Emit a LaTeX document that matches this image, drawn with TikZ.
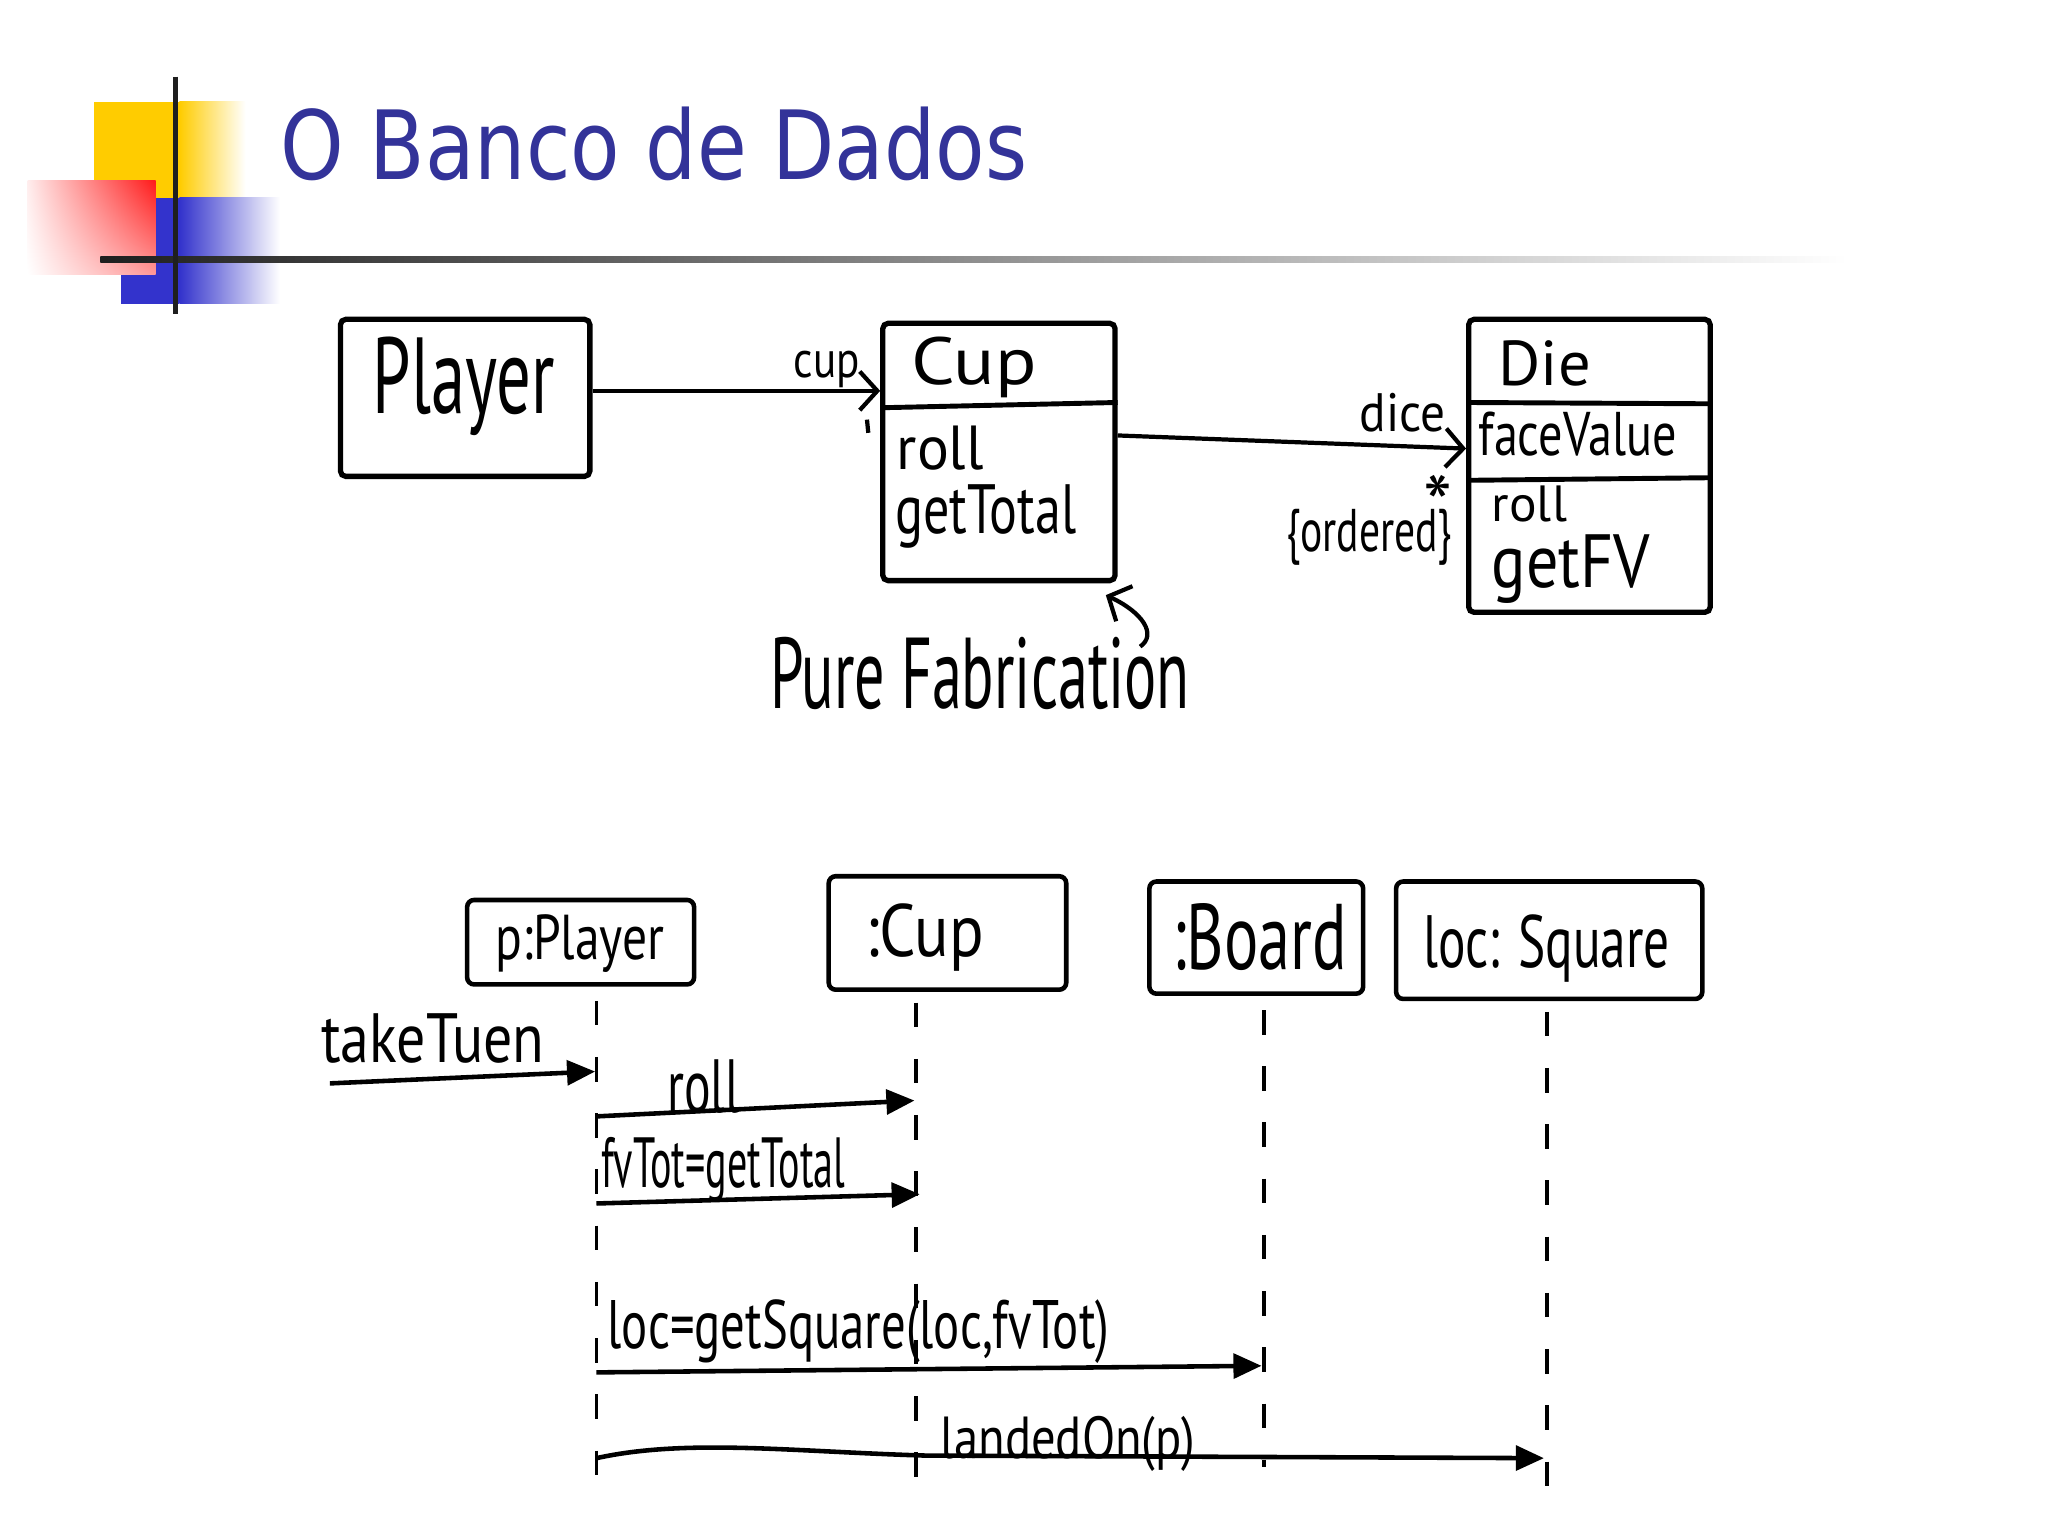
\documentclass[tikz,border=0pt]{standalone}
\usepackage{fontspec}
\usepackage{graphicx}
\setmainfont{Liberation Sans}
\newfontfamily\titlefont{DejaVu Sans}
\newfontfamily\handfont{PT Sans}
\usetikzlibrary{arrows.meta,calc,shadings}
\newlength\pxu
\setlength\pxu{0.013196cm}
\newcommand{\hw}[3]{\resizebox{#1\pxu}{#2\pxu}{\handfont #3}}
\definecolor{titleblue}{HTML}{333399}
\definecolor{logoyellow}{HTML}{FFCC00}
\definecolor{logoblue}{HTML}{3333CC}
\definecolor{logored}{HTML}{FF1A1A}
\tikzset{
  classbox/.style 2 args={draw, line width=1.5pt, minimum width=#1\pxu, minimum height=#2\pxu, inner sep=0pt, rounded corners=1.5pt},
  objbox/.style 2 args={draw, line width=1.3pt, minimum width=#1\pxu, minimum height=#2\pxu, inner sep=0pt, rounded corners=2pt},
  txt/.style={anchor=base west, inner sep=0pt},
  divider/.style={line width=1.4pt},
  assoc/.style={line width=1.2pt, -{Straight Barb[length=5pt,width=11pt,line width=1.2pt]}},
  msg/.style={line width=1.3pt, -{Triangle[length=8pt,width=7pt]}},
  lifeline/.style={line width=1.1pt, dash pattern=on 7pt off 9pt},
}
\begin{document}
\begin{tikzpicture}[x=\pxu,y=-\pxu]
\useasboundingbox (0,0) rectangle (1552,1164);
% ---------- logo ----------
\fill[logoyellow] (71,77) rectangle (136,150);
\shade[left color=logoyellow, right color=white] (136,77) rectangle (186,150);
\fill[logoblue] (92,150) rectangle (136,230);
\shade[left color=logoblue, right color=white] (136,150) rectangle (212,230);
\shade[upper right=logored, lower right=logored!45, upper left=logored!8, lower left=white] (21,137) rectangle (118,208);
\shade[left color=black!88, middle color=black!55, right color=white] (76,194.5) rectangle (1400,199);
\draw[line width=1.6pt, black!88] (133,58) -- (133,238);
\node[txt, text=titleblue] (title) at (212,136) {\resizebox{566\pxu}{55\pxu}{\titlefont O Banco de Dados}};
% ---------- class diagram ----------
\node[classbox={189}{119}] (player) at (352.5,301.5) {};
\node[classbox={176}{195}] (cup) at (757,342.5) {};
\node[classbox={183}{222}] (die) at (1204.5,353) {};
\draw[divider] (cup.west |- 0,309) -- (cup.east |- 0,305);
\draw[divider] (die.west |- 0,305) -- (die.east |- 0,306);
\draw[divider] (die.west |- 0,364) -- (die.east |- 0,362);
\node[txt] (tplayer) at (282,313) {\hw{138}{58}{Player}};
\node[txt] (tcup) at (690,291) {\hw{95}{36}{Cup}};
\node[txt] (tcuproll) at (679,356) {\hw{66}{33}{roll}};
\node[txt] (tcuptotal) at (678,404) {\hw{137}{37}{getTotal}};
\node[txt] (tdie) at (1135,292) {\hw{70}{34}{Die}};
\node[txt] (tface) at (1120,345) {\hw{150}{33}{faceValue}};
\node[txt] (tdieroll) at (1130,395) {\hw{57}{27}{roll}};
\node[txt] (tgetfv) at (1130,445) {\hw{120}{40}{getFV}};
\draw[assoc] ([yshift=2pt]player.east) -- ([yshift=2pt]player.east -| cup.west);
\node[txt] (lcup) at (601,286) {\hw{50}{20}{cup}};
\draw[line width=1.2pt] (657,318) -- (658,328);
\draw[assoc] ([yshift=4.7pt]cup.east) -- ([yshift=4.9pt]die.west);
\node[txt] (ldice) at (1030,327) {\hw{65}{29}{dice}};
\node[anchor=north, inner sep=0pt] (lstar) at (1090,359) {\resizebox{22\pxu}{!}{\handfont\raisebox{-0.43em}[0.3em][0pt]{*}}};
\node[txt] (lordered) at (974,418) {\hw{126}{32}{\{ordered\}}};
\node[txt] (tpure) at (583,537) {\hw{318}{54}{Pure Fabrication}};
\coordinate (pfa) at (864,490);
\coordinate (pfb) at (838,451);
\draw[assoc] (pfa) .. controls (877,481) and (866,464) .. (pfb);
% ---------- sequence diagram ----------
\node[objbox={172}{64}] (splayer) at (440,714) {};
\node[objbox={180}{86}] (scup) at (718,707) {};
\node[objbox={162}{85}] (sboard) at (952,710.5) {};
\node[objbox={232}{89}] (ssquare) at (1174,712.5) {};
\node[txt] (tsplayer) at (375,727) {\hw{128}{34}{p:Player}};
\node[txt] (tscup) at (655,725) {\hw{90}{40}{:Cup}};
\node[txt] (tsboard) at (888,735) {\hw{132}{50}{:Board}};
\node[txt] (tssquare) at (1078,733) {\hw{187}{40}{loc: Square}};
\coordinate (llP) at (452,1122);
\coordinate (llC) at (694,1130);
\coordinate (llB) at (958,1112);
\coordinate (llS) at (1172,1145);
\draw[lifeline, shorten <=4pt] (splayer.south -| llP) -- (llP);
\draw[lifeline, shorten <=3pt] (scup.south -| llC) -- (llC);
\draw[lifeline, shorten <=4pt] (sboard.south -| llB) -- (llB);
\draw[lifeline, shorten <=3pt] (ssquare.south -| llS) -- (llS);
\coordinate (tk0) at (250,821);
\coordinate (tk1) at (451,812);
\draw[msg] (tk0) -- (tk1);
\node[txt] (ltake) at (243,805) {\hw{169}{37}{takeTuen}};
\coordinate (r0) at (452,846);
\coordinate (r1) at (693,834);
\draw[msg] (r0) -- (r1);
\node[txt] (lroll) at (505,843) {\hw{55}{40}{roll}};
\coordinate (g0) at (452,912);
\coordinate (g1) at (697,905);
\draw[msg] (g0) -- (g1);
\node[txt] (lget) at (455,900) {\hw{185}{38}{fvTot=getTotal}};
\coordinate (q0) at (452,1040);
\coordinate (q1) at (956,1035);
\draw[msg] (q0) -- (q1);
\node[txt] (lsq) at (460,1022) {\hw{380}{37}{loc=getSquare(loc,fvTot)}};
\coordinate (d0) at (452,1105);
\coordinate (d1) at (1170,1105);
\draw[msg] (d0) .. controls (520,1090) and (600,1100) .. (700,1103) -- (d1);
\node[txt] (lland) at (712,1105) {\hw{193}{32}{landedOn(p)}};
\end{tikzpicture}
\end{document}
